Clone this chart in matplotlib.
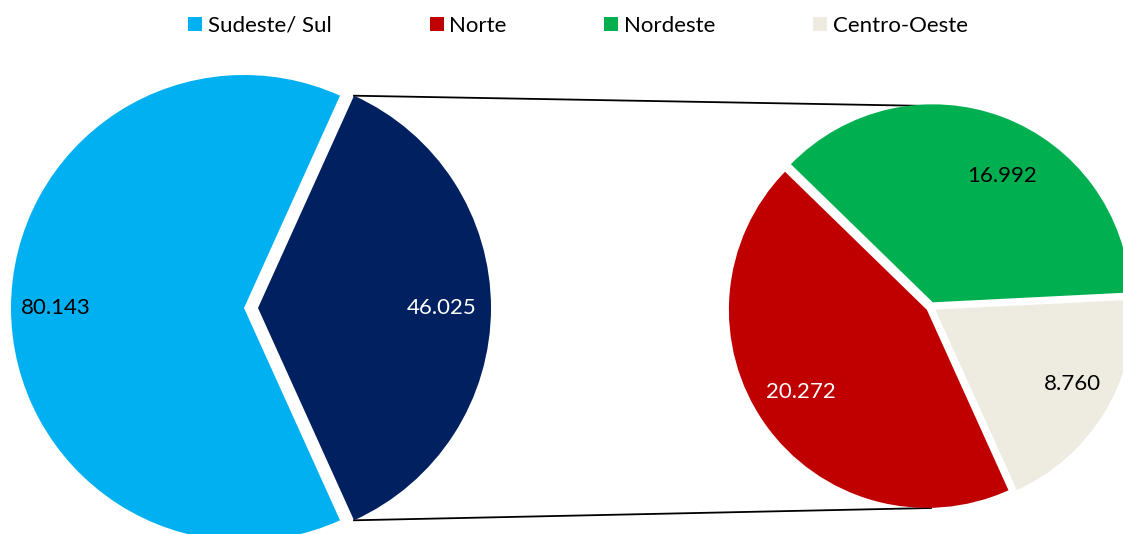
import numpy as np
import matplotlib.pyplot as plt
from matplotlib.patches import Patch

plt.rcParams['font.family'] = ['Lato', 'DejaVu Sans']

W, H = 1123, 534

# valores por regiao
sudeste_sul = 80143
outras = 46025                      # soma das regioes do pie secundario
regioes = ['Centro-Oeste', 'Nordeste', 'Norte']
valores_regioes = [8760, 16992, 20272]
legenda = ['Sudeste/ Sul', 'Norte', 'Nordeste', 'Centro-Oeste']

cores = {
    'Sudeste/ Sul': '#00B0F0',
    'Outras': '#002060',
    'Norte': '#C00000',
    'Nordeste': '#00B050',
    'Centro-Oeste': '#EEECE1',
}
cor_texto = {'Sudeste/ Sul': 'black', 'Outras': 'white', 'Norte': 'white',
             'Nordeste': 'black', 'Centro-Oeste': 'black'}


def fmt(v):
    return f'{v:,}'.replace(',', '.')


def rotular(ax, wedges, nomes, valores, dist, desvio):
    for w, nome, v, d, s in zip(wedges, nomes, valores, dist, desvio):
        ang = np.deg2rad((w.theta1 + w.theta2) / 2 + s)
        x = w.center[0] + d * w.r * np.cos(ang)
        y = w.center[1] + d * w.r * np.sin(ang)
        ax.text(x, y, fmt(v), ha='center', va='center', fontsize=16,
                color=cor_texto[nome])


fig = plt.figure(figsize=(W / 100, H / 100), dpi=100)
ax = fig.add_axes([0, 0, 1, 1])

inicio = -180 * outras / (sudeste_sul + outras)

# pie principal
c1, r1 = (251, H - 308), 233
w1, _ = ax.pie([outras, sudeste_sul], colors=[cores['Outras'], cores['Sudeste/ Sul']],
               startangle=inicio, center=c1, radius=r1, explode=[7, 7], frame=True)
rotular(ax, w1, ['Outras', 'Sudeste/ Sul'], [outras, sudeste_sul], [0.79, 0.81], [0, 0])

# pie secundario
c2, r2 = (931, H - 307), 198
w2, _ = ax.pie(valores_regioes, colors=[cores[n] for n in regioes],
               startangle=inicio, center=c2, radius=r2, explode=[5, 5, 5], frame=True)
rotular(ax, w2, regioes, valores_regioes, [0.79, 0.73, 0.76], [3, -8, -2])

# linhas de ligacao (atras das fatias)
d = w1[0]
for ang, yr in [(d.theta2, c2[1] + r2 + 3), (d.theta1, c2[1] - r2 - 3)]:
    x0 = d.center[0] + d.r * np.cos(np.deg2rad(ang))
    y0 = d.center[1] + d.r * np.sin(np.deg2rad(ang))
    ax.plot([x0, c2[0]], [y0, yr], color='black', lw=1.3, zorder=0)

ax.set_xlim(0, W)
ax.set_ylim(0, H)
ax.set_aspect('equal')
ax.axis('off')

handles = [Patch(facecolor=cores[n], edgecolor='none') for n in legenda]
fig.legend(handles, legenda, loc='center', bbox_to_anchor=(578 / W, 1 - 26 / H),
           ncol=4, frameon=False, fontsize=16, handlelength=0.63, handleheight=0.63,
           handletextpad=0.25, columnspacing=4.4, borderaxespad=0)

fig.savefig('out.png', dpi=100)
